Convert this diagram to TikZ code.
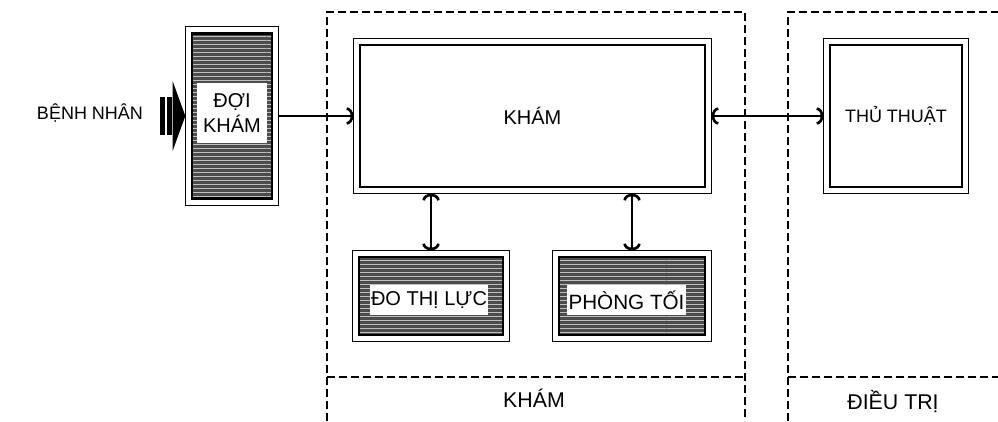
\documentclass[tikz,border=0pt]{standalone}
\usepackage{fontspec}
\setmainfont{Liberation Sans}
\usetikzlibrary{arrows.meta,patterns}

\begin{document}
\begin{tikzpicture}[x=0.75pt, y=-0.75pt,
	every node/.style={font=\fontsize{13.5}{16}\selectfont},
	big/.style={font=\fontsize{16}{18}\selectfont},
	>={Arc Barb[length=5pt, width=13pt]},
	frame/.style={draw, line width=1.6pt, outer sep=5pt, inner sep=0pt,
		append after command={\pgfextra{\draw[line width=0.8pt] (\tikzlastnode.north west) rectangle (\tikzlastnode.south east);}}},
	hatch/.style={preaction={fill=black!70}, pattern=horizontal lines, pattern color=white!75!black},
	tag/.style={fill=white, inner sep=1pt},
	conn/.style={line width=2pt},
	zone/.style={line width=1.1pt, dash pattern=on 6pt off 3pt}]
	\useasboundingbox (0,0) rectangle (998,421);
	\clip (0,0) rectangle (998,421);
	\draw[zone] (327,421) -- (327,12) -- (745,12) -- (745,421);
	\draw[zone] (327,377) -- (745,377);
	\draw[zone] (788,421) -- (788,12) -- (998,12);
	\draw[zone] (788,377) -- (998,377);
	\node (bn) at (90,113) {BỆNH NHÂN};
	\node[frame, hatch, minimum width=60pt, minimum height=123.75pt] (doi) at (232,116) {};
	\node[tag, font=\fontsize{15}{17}\selectfont, minimum width=53pt, minimum height=45pt, align=center] (doitxt) at (232,113) {ĐỢI\\[2pt]KHÁM};
	\node[frame, font=\fontsize{15}{17}\selectfont, minimum width=258.75pt, minimum height=106.5pt] (kham) at (532.5,116) {KHÁM};
	\node[frame, minimum width=99pt, minimum height=106.5pt] (tt) at (896,116) {THỦ THUẬT};
	\node[frame, hatch, minimum width=108pt, minimum height=58.5pt] (dtl) at (431,296) {};
	\node[tag, font=\fontsize{15}{17}\selectfont, minimum width=88.5pt, minimum height=22.5pt] (dtltxt) at (429,300) {ĐO THỊ LỰC};
	\node[frame, hatch, minimum width=109.5pt, minimum height=58.5pt] (pt) at (632,296) {};
	\node[tag, font=\fontsize{15.5}{17}\selectfont, minimum width=88pt, minimum height=22.5pt] (pttxt) at (626.5,300) {PHÒNG TỐI};
	\node[big] (rk) at (534,398) {KHÁM};
	\node[big] (rd) at (893,402) {ĐIỀU TRỊ};
	\coordinate (in) at (160,116);
	\draw[line width=28pt, dash pattern=on 4pt off 1.2pt, -{Triangle[length=9.5pt, width=52pt]}] (in) -- (doi.west);
	\draw[conn, ->] (doi) -- (kham);
	\draw[conn, <->] (kham) -- (tt);
	\draw[conn, <->] (kham.south -| dtl.north) -- (dtl.north);
	\draw[conn, <->] (kham.south -| pt.north) -- (pt.north);
\end{tikzpicture}
\end{document}
